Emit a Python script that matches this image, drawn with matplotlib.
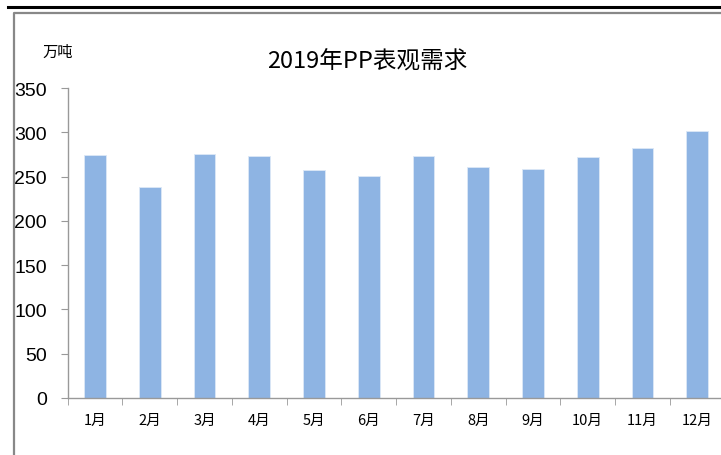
import matplotlib.pyplot as plt
from matplotlib.lines import Line2D
import numpy as np

months = ['1月', '2月', '3月', '4月', '5月', '6月', '7月', '8月', '9月', '10月', '11月', '12月']
demand = [274, 238, 275, 273, 257, 251, 273, 261, 259, 272, 282, 301]
yticks = [0, 50, 100, 150, 200, 250, 300, 350]

plt.rcParams['font.family'] = ['Noto Sans CJK SC', 'DejaVu Sans']

fig = plt.figure(figsize=(7.21, 4.56), dpi=100)
ax = fig.add_axes([67.6 / 721, 1 - 399 / 456, 657 / 721, 310 / 456])

x = np.arange(len(months))
ax.bar(x, demand, width=0.4, color='#8eb4e3', edgecolor='#dce8f6', linewidth=0.6)

ax.set_xlim(-0.5, len(months) - 0.5)
ax.set_ylim(0, 350)
ax.set_yticks(yticks)
ax.set_yticklabels([str(v) for v in yticks], fontfamily='Liberation Sans', fontsize=14)
ax.set_xticks(x)
ax.set_xticklabels(months, fontsize=10.5)
ax.set_xticks(np.arange(len(months) + 1) - 0.5, minor=True)
ax.tick_params(axis='x', which='major', length=0, pad=11)
ax.tick_params(axis='x', which='minor', length=5, color='#999999', direction='out')
ax.tick_params(axis='y', length=5, color='#999999', direction='out', pad=10)

for side in ['top', 'right']:
    ax.spines[side].set_visible(False)
for side in ['left', 'bottom']:
    ax.spines[side].set_color('#999999')
    ax.spines[side].set_linewidth(1.0)

fig.text(367 / 721, 1 - 62 / 456, '2019年PP表观需求', ha='center', va='center', fontsize=17)
fig.text(58 / 721, 1 - 52 / 456, '万吨', ha='center', va='center', fontsize=11)

# outer frame lines
fig.add_artist(Line2D([8 / 721, 1], [1 - 7.5 / 456] * 2, color='black', linewidth=2.2,
                      transform=fig.transFigure))
fig.add_artist(Line2D([14 / 721, 14 / 721, 1], [0, 1 - 14 / 456, 1 - 14 / 456], color='#888888',
                      linewidth=1.6, transform=fig.transFigure))

fig.savefig('out.png', dpi=100)
